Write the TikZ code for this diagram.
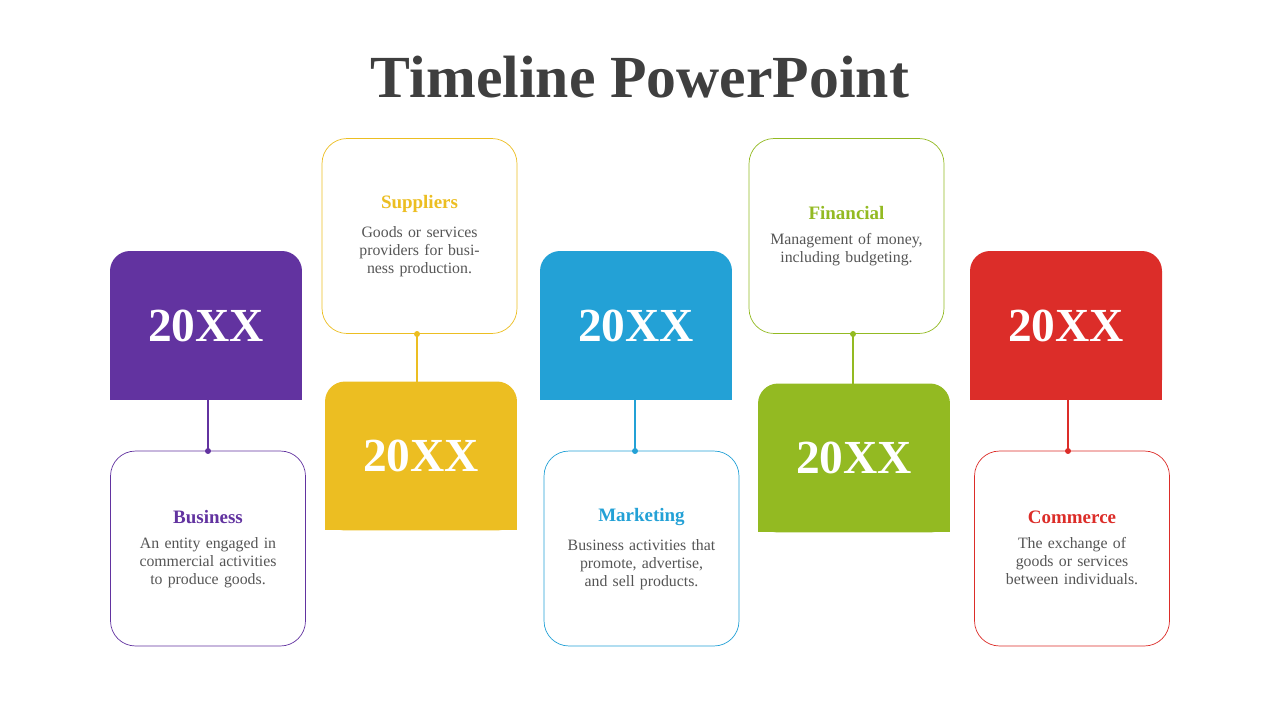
\documentclass[tikz,border=0pt]{standalone}
\usepackage{fontspec}
\setmainfont{Liberation Serif}
\usetikzlibrary{positioning}
\definecolor{cpurple}{HTML}{6233A0}
\definecolor{cyellow}{HTML}{ECBE22}
\definecolor{cblue}{HTML}{23A1D6}
\definecolor{cgreen}{HTML}{93BA22}
\definecolor{cred}{HTML}{DC2D29}
\definecolor{ctext}{HTML}{555555}
\definecolor{ctitle}{HTML}{3F3F3F}
\begin{document}
\begin{tikzpicture}[
        x=0.02cm, y=-0.02cm,
        year box/.style={rounded corners=0.4cm, minimum width=3.84cm, minimum height=2.98cm,
          inner sep=0pt, text=white, font=\fontsize{27}{30}\selectfont\bfseries},
        info box/.style={draw, thin, rounded corners=0.5cm, minimum width=3.9cm, minimum height=3.9cm,
          inner sep=0pt, fill=white},
        info text/.style={text=ctext, align=center, font=\fontsize{9}{10.2}\selectfont, text width=3.5cm},
        link/.style={thick},
        dot/.style={circle, fill, inner sep=1.2pt}
                                ]
    \useasboundingbox (0,0) rectangle (1280,720);
    \node[text=ctitle, font=\fontsize{34}{36}\selectfont\bfseries] (title) at (640,77) {Timeline PowerPoint};

    % year boxes
    \fill[cpurple] (110,330) rectangle (302,400);
    \node[year box, fill=cpurple] (y1) at (206,325.5) {20XX};
    \fill[cyellow] (325,460) rectangle (517,530);
    \node[year box, fill=cyellow] (y2) at (421,456) {20XX};
    \fill[cblue] (540,330) rectangle (732,400);
    \node[year box, fill=cblue] (y3) at (636,325.5) {20XX};
    \fill[cgreen] (758,462) rectangle (950,532);
    \node[year box, fill=cgreen] (y4) at (854,458) {20XX};
    \fill[cred] (970,330) rectangle (1162,400);
    \node[year box, fill=cred] (y5) at (1066,325.5) {20XX};

    % info boxes
    \node[info box, draw=cpurple] (b1) at (208,548.5) {};
    \node[info box, draw=cyellow] (b2) at (419.5,236) {};
    \node[info box, draw=cblue] (b3) at (641.5,548.5) {};
    \node[info box, draw=cgreen] (b4) at (846.5,236) {};
    \node[info box, draw=cred] (b5) at (1072,548.5) {};

    \node[text=cpurple, font=\fontsize{10.8}{12}\selectfont\bfseries] (t1) at (208,517) {Business};
    \node[info text, below=1pt of t1] {An entity engaged in commercial activities to produce goods.};
    \node[text=cyellow, font=\fontsize{10.8}{12}\selectfont\bfseries] (t2) at (419.5,204) {Suppliers};
    \node[info text, below=1pt of t2] {Goods or services providers for business production.};
    \node[text=cblue, font=\fontsize{10.8}{12}\selectfont\bfseries] (t3) at (641.5,517) {Marketing};
    \node[info text, below=1pt of t3] {Business activities that promote, advertise, and sell products.};
    \node[text=cgreen, font=\fontsize{10.8}{12}\selectfont\bfseries] (t4) at (846.5,213) {Financial};
    \node[info text, below=1pt of t4] {Management of money, including budgeting.};
    \node[text=cred, font=\fontsize{10.8}{12}\selectfont\bfseries] (t5) at (1072,517) {Commerce};
    \node[info text, below=1pt of t5] {The exchange of goods or services between individuals.};

    % connectors
    \coordinate (c1) at (208,451);  \coordinate (c2) at (417,334);
    \coordinate (c3) at (635,451);  \coordinate (c4) at (853,334);
    \coordinate (c5) at (1068,451);
    \draw[link, cpurple] (208,400) -- (c1);
    \draw[link, cyellow] (c2) -- (417,382);
    \draw[link, cblue] (635,400) -- (c3);
    \draw[link, cgreen] (c4) -- (853,384);
    \draw[link, cred] (1068,400) -- (c5);
    \foreach \c/\col in {c1/cpurple, c2/cyellow, c3/cblue, c4/cgreen, c5/cred}
        \node[dot, \col] at (\c) {};
\end{tikzpicture}
\end{document}
